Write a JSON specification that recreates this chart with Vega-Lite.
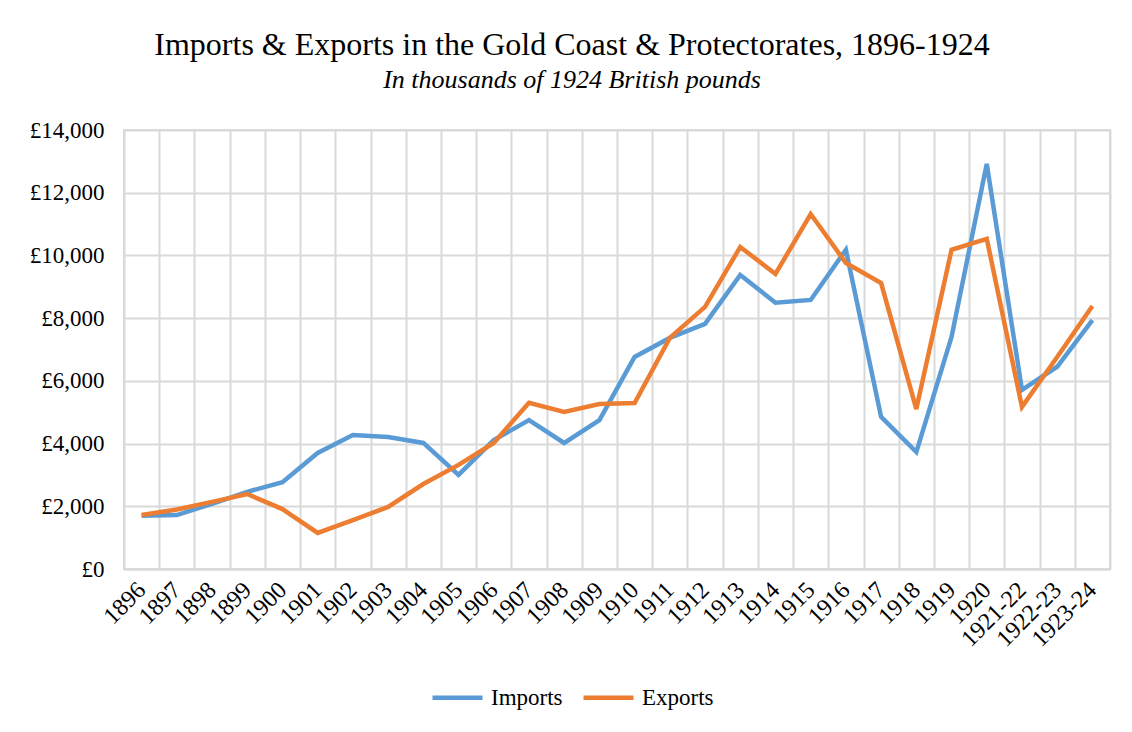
{
  "$schema": "https://vega.github.io/schema/vega-lite/v6.json",
  "width": 986,
  "height": 439,
  "autosize": {"type": "none"},
  "padding": {"left": 124, "top": 130, "right": 22, "bottom": 163},
  "background": "white",
  "title": {
    "text": "Imports & Exports in the Gold Coast & Protectorates, 1896-1924",
    "subtitle": "In thousands of 1924 British pounds",
    "anchor": "middle",
    "dx": -45,
    "offset": 25,
    "font": "Liberation Serif",
    "fontSize": 32,
    "fontWeight": "normal",
    "color": "#000000",
    "subtitleFont": "Liberation Serif",
    "subtitleFontSize": 26,
    "subtitleFontStyle": "italic",
    "subtitleColor": "#000000",
    "subtitlePadding": 5
  },
  "config": {
    "view": {"stroke": "#d9d9d9", "strokeWidth": 2},
    "font": "Liberation Serif"
  },
  "data": {
    "values": [
      {"year": "1896", "series": "Imports", "value": 1700},
      {"year": "1897", "series": "Imports", "value": 1720},
      {"year": "1898", "series": "Imports", "value": 2080},
      {"year": "1899", "series": "Imports", "value": 2460},
      {"year": "1900", "series": "Imports", "value": 2770},
      {"year": "1901", "series": "Imports", "value": 3700},
      {"year": "1902", "series": "Imports", "value": 4270},
      {"year": "1903", "series": "Imports", "value": 4210},
      {"year": "1904", "series": "Imports", "value": 4020},
      {"year": "1905", "series": "Imports", "value": 3000},
      {"year": "1906", "series": "Imports", "value": 4110},
      {"year": "1907", "series": "Imports", "value": 4750},
      {"year": "1908", "series": "Imports", "value": 4020},
      {"year": "1909", "series": "Imports", "value": 4750},
      {"year": "1910", "series": "Imports", "value": 6760},
      {"year": "1911", "series": "Imports", "value": 7370},
      {"year": "1912", "series": "Imports", "value": 7820},
      {"year": "1913", "series": "Imports", "value": 9380},
      {"year": "1914", "series": "Imports", "value": 8490},
      {"year": "1915", "series": "Imports", "value": 8580},
      {"year": "1916", "series": "Imports", "value": 10180},
      {"year": "1917", "series": "Imports", "value": 4850},
      {"year": "1918", "series": "Imports", "value": 3730},
      {"year": "1919", "series": "Imports", "value": 7400},
      {"year": "1920", "series": "Imports", "value": 12920},
      {"year": "1921-22", "series": "Imports", "value": 5710},
      {"year": "1922-23", "series": "Imports", "value": 6450},
      {"year": "1923-24", "series": "Imports", "value": 7940},
      {"year": "1896", "series": "Exports", "value": 1720},
      {"year": "1897", "series": "Exports", "value": 1900},
      {"year": "1898", "series": "Exports", "value": 2140},
      {"year": "1899", "series": "Exports", "value": 2390},
      {"year": "1900", "series": "Exports", "value": 1910},
      {"year": "1901", "series": "Exports", "value": 1150},
      {"year": "1902", "series": "Exports", "value": 1560},
      {"year": "1903", "series": "Exports", "value": 1980},
      {"year": "1904", "series": "Exports", "value": 2710},
      {"year": "1905", "series": "Exports", "value": 3320},
      {"year": "1906", "series": "Exports", "value": 4020},
      {"year": "1907", "series": "Exports", "value": 5300},
      {"year": "1908", "series": "Exports", "value": 5010},
      {"year": "1909", "series": "Exports", "value": 5260},
      {"year": "1910", "series": "Exports", "value": 5290},
      {"year": "1911", "series": "Exports", "value": 7370},
      {"year": "1912", "series": "Exports", "value": 8360},
      {"year": "1913", "series": "Exports", "value": 10270},
      {"year": "1914", "series": "Exports", "value": 9410},
      {"year": "1915", "series": "Exports", "value": 11320},
      {"year": "1916", "series": "Exports", "value": 9760},
      {"year": "1917", "series": "Exports", "value": 9120},
      {"year": "1918", "series": "Exports", "value": 5100},
      {"year": "1919", "series": "Exports", "value": 10180},
      {"year": "1920", "series": "Exports", "value": 10530},
      {"year": "1921-22", "series": "Exports", "value": 5170},
      {"year": "1922-23", "series": "Exports", "value": 6760},
      {"year": "1923-24", "series": "Exports", "value": 8390}
    ]
  },
  "mark": {"type": "line", "strokeWidth": 4.5, "strokeJoin": "miter", "strokeCap": "butt"},
  "encoding": {
    "x": {
      "field": "year",
      "type": "ordinal",
      "sort": null,
      "bandPosition": 0.5,
      "scale": {"type": "band", "paddingInner": 0, "paddingOuter": 0},
      "axis": {
        "title": null,
        "tickBand": "extent",
        "ticks": false,
        "domainColor": "#d9d9d9",
        "domainWidth": 2,
        "grid": true,
        "gridColor": "#d9d9d9",
        "gridWidth": 2,
        "labelAngle": -45,
        "labelAlign": "right",
        "labelBaseline": "middle",
        "labelFont": "Liberation Serif",
        "labelFontSize": 24,
        "labelColor": "#000000",
        "labelPadding": 17,
        "labelOverlap": false
      }
    },
    "y": {
      "field": "value",
      "type": "quantitative",
      "scale": {"domain": [0, 14000]},
      "axis": {
        "title": null,
        "values": [0, 2000, 4000, 6000, 8000, 10000, 12000, 14000],
        "labelExpr": "'£' + format(datum.value, ',')",
        "domain": false,
        "ticks": false,
        "grid": true,
        "gridColor": "#d9d9d9",
        "gridWidth": 2,
        "labelFont": "Liberation Serif",
        "labelFontSize": 23,
        "labelColor": "#000000",
        "labelPadding": 20
      }
    },
    "color": {
      "field": "series",
      "type": "nominal",
      "scale": {"domain": ["Imports", "Exports"], "range": ["#5b9bd5", "#ed7d31"]},
      "legend": {
        "title": null,
        "orient": "none",
        "direction": "horizontal",
        "legendX": 306,
        "legendY": 540,
        "symbolType": "stroke",
        "symbolStrokeWidth": 4.5,
        "symbolSize": 2500,
        "labelFont": "Liberation Serif",
        "labelFontSize": 23,
        "labelColor": "#000000",
        "labelOffset": 6,
        "columnPadding": 11
      }
    }
  }
}
